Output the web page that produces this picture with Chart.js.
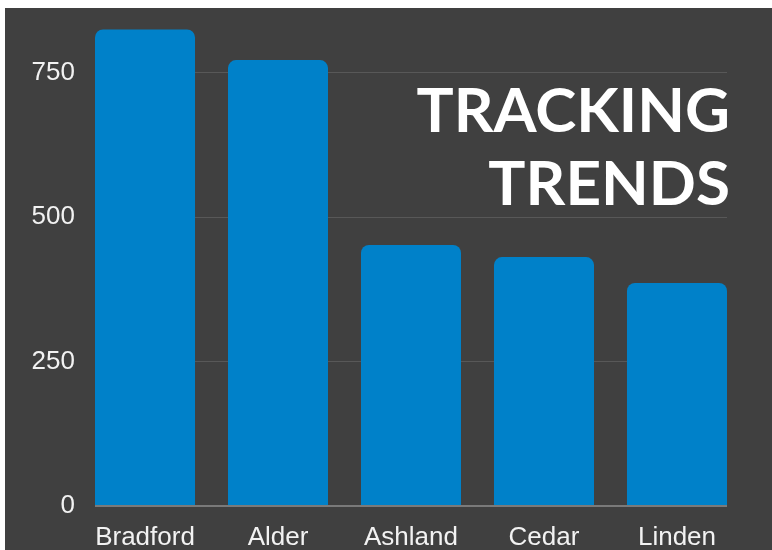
<!DOCTYPE html>
<html>
<head>
<meta charset="utf-8">
<script src="https://cdn.jsdelivr.net/npm/chart.js@4"></script>
<style>
  body { margin: 0; background: #fff; }
  #wrap { position: absolute; left: 5px; top: 8px; width: 767px; height: 542px; background: #404040; }
</style>
</head>
<body>
<div id="wrap"><canvas id="trendChart"></canvas></div>
<script>
// data
var towns = ['Bradford', 'Alder', 'Ashland', 'Cedar', 'Linden'];
var counts = [825, 772, 452, 431, 386];
var yTicks = [0, 250, 500, 750];
var xTicks = [0, 1, 2, 3, 4];
var titleLines = ['TRACKING', 'TRENDS'];

var titlePlugin = {
  id: 'bigTitle',
  afterDraw: function(chart) {
    var ctx = chart.ctx;
    var area = chart.chartArea;
    ctx.save();
    ctx.fillStyle = '#ffffff';
    ctx.textAlign = 'right';
    ctx.textBaseline = 'alphabetic';
    ctx.font = 'bold 62px Lato';
    ctx.fillText(titleLines[0], area.right + 3, 124);
    ctx.fillText(titleLines[1], area.right + 3, 197);
    ctx.restore();
  }
};

new Chart(document.getElementById('trendChart'), {
  type: 'bar',
  data: {
    datasets: [{
      data: counts.map(function(v, i) { return { x: i, y: v }; }),
      backgroundColor: '#0081c9',
      borderRadius: 8,
      barPercentage: 0.752,
      categoryPercentage: 1
    }]
  },
  options: {
    responsive: true,
    maintainAspectRatio: false,
    animation: false,
    layout: { padding: { top: 7, right: 45, left: 0, bottom: 0 } },
    plugins: { legend: { display: false }, tooltip: { enabled: false } },
    scales: {
      x: {
        type: 'linear',
        min: -0.376,
        max: 4.376,
        offset: false,
        bounds: 'data',
        grid: { display: false, offset: false },
        border: { display: false },
        ticks: {
          color: '#f2f2f2',
          font: { family: 'Liberation Sans', size: 26 },
          padding: 8,
          maxRotation: 0,
          autoSkip: false,
          callback: function(v) { return towns[v]; }
        },
        afterBuildTicks: function(s) {
          s.ticks = xTicks.map(function(v) { return { value: v }; });
        },
        afterFit: function(s) { s.height = 44; }
      },
      y: {
        min: 0,
        max: 850,
        grid: {
          drawTicks: false,
          color: function(c) { return c.tick && c.tick.value === 0 ? '#7a7a7a' : '#585858'; },
          lineWidth: function(c) { return c.tick && c.tick.value === 0 ? 2 : 1; }
        },
        border: { display: false },
        ticks: {
          color: '#f2f2f2',
          font: { family: 'Liberation Sans', size: 26 },
          padding: 20
        },
        afterBuildTicks: function(s) {
          s.ticks = yTicks.map(function(v) { return { value: v }; });
        },
        afterFit: function(s) { s.width = 90; s.paddingTop = 0; s.paddingBottom = 0; }
      }
    }
  },
  plugins: [titlePlugin]
});
</script>
</body>
</html>
